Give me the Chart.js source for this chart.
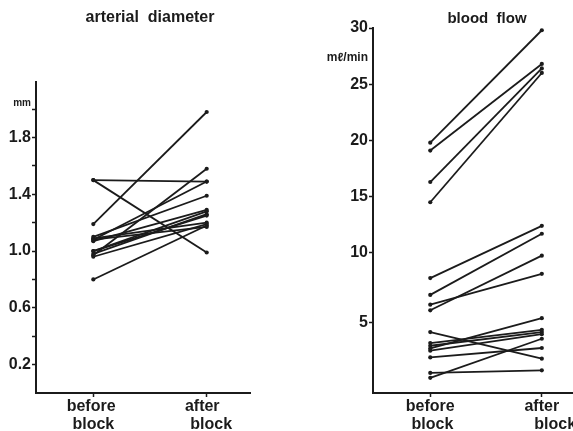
<!DOCTYPE html>
<html><head><meta charset="utf-8">
<script src="https://cdn.jsdelivr.net/npm/chart.js@4/dist/chart.umd.min.js"></script>
<style>
html,body{margin:0;padding:0;background:#fff;overflow:hidden;width:573px;height:431px;position:relative;}
#cl{position:absolute;left:0;top:0;}
#cr{position:absolute;left:290px;top:0;}
</style></head><body>
<canvas id="cl" width="300" height="431"></canvas>
<canvas id="cr" width="394" height="431"></canvas>
<script>
// ---------- data ----------
const categories = ['before block', 'after block'];   // x = 0, 1
const xLabelsLeft  = [['before ', 'block'], ['after  ', '  block']];
const xLabelsRight = [['before', ' block'], ['after', '      block']];

const diameterBefore = [1.50, 1.50, 1.19, 0.80, 0.97, 1.08, 1.10, 1.07, 1.00, 0.98, 1.09, 0.96, 1.08, 1.00];
const diameterAfter  = [1.49, 0.99, 1.98, 1.18, 1.58, 1.49, 1.39, 1.29, 1.28, 1.26, 1.20, 1.19, 1.17, 1.25];
const diameterTickValues = [0.2, 0.4, 0.6, 0.8, 1.0, 1.2, 1.4, 1.6, 1.8, 2.0];
const diameterTickLabels = ['0.2', '', '0.6', '', '1.0', '', '1.4', '', '1.8', ['mm', '']];

const flowBefore = [19.8, 19.1, 16.3, 14.5, 8.2, 7.0, 6.3, 5.9, 4.35, 3.56, 3.37, 3.18, 3.02, 2.54, 1.43, 1.08];
const flowAfter  = [29.8, 26.8, 26.4, 26.0, 12.4, 11.7, 8.5, 9.8, 2.45, 4.51, 4.35, 5.34, 4.20, 3.21, 1.62, 3.87];
const flowTickValues = [5, 10, 15, 20, 25, 27.4, 30];
const flowTickLabels = ['5', '10', '15', '20', '25', 'mℓ/min', '30'];
const flowUnitValue = 27.4;

// ---------- broken (two-segment) linear scale ----------
const FLOW_BREAK = 10, FLOW_BREAK_FRACTION = 0.384;
class BrokenLinearScale extends Chart.LinearScale {
  _toDecimal(v) {
    const min = this.min, max = this.max;
    return v <= FLOW_BREAK
      ? (v - min) / (FLOW_BREAK - min) * FLOW_BREAK_FRACTION
      : FLOW_BREAK_FRACTION + (v - FLOW_BREAK) / (max - FLOW_BREAK) * (1 - FLOW_BREAK_FRACTION);
  }
  getPixelForValue(v) {
    if (v === null || v === undefined || isNaN(v)) return NaN;
    return this.getPixelForDecimal(this._toDecimal(v));
  }
  getValueForPixel(p) {
    const d = this.getDecimalForPixel(p);
    const min = this.min, max = this.max;
    return d <= FLOW_BREAK_FRACTION
      ? min + d / FLOW_BREAK_FRACTION * (FLOW_BREAK - min)
      : FLOW_BREAK + (d - FLOW_BREAK_FRACTION) / (1 - FLOW_BREAK_FRACTION) * (max - FLOW_BREAK);
  }
}
BrokenLinearScale.id = 'brokenLinear';
BrokenLinearScale.defaults = Chart.LinearScale.defaults;
Chart.register(BrokenLinearScale);

// ---------- styles ----------
const INK = '#1b1b1b';
const FONT = 'Liberation Sans, Arial, sans-serif';

function pairDatasets(before, after) {
  return before.map((b, i) => ({
    data: [{x: 0, y: b}, {x: 1, y: after[i]}],
    showLine: true,
    borderColor: INK,
    backgroundColor: INK,
    borderWidth: 1.8,
    pointRadius: 2.1,
    pointBorderWidth: 0,
    pointBackgroundColor: INK,
    clip: false
  }));
}

function xScale(min, max, labels) {
  return {
    type: 'linear', min: min, max: max,
    afterBuildTicks: s => { s.ticks = categories.map((c, i) => ({value: i})); },
    afterFit: s => { s.height = 38; },
    ticks: {
      autoSkip: false, color: INK, padding: 0,
      font: {family: FONT, size: 16, weight: 'bold', lineHeight: 1.15},
      callback: (v, i) => labels[i]
    },
    grid: {drawOnChartArea: false, drawTicks: true, tickLength: 4, tickColor: INK, tickWidth: 1.5},
    border: {display: true, color: INK, width: 2}
  };
}

const commonPlugins = (title, size, padTop, padBottom) => ({
  legend: {display: false},
  tooltip: {enabled: false},
  title: {display: true, text: title, color: INK,
    font: {family: FONT, size: size, weight: 'bold', lineHeight: 1.2},
    padding: {top: padTop, bottom: padBottom}}
});

// ---------- left: arterial diameter ----------
new Chart(document.getElementById('cl'), {
  type: 'scatter',
  data: {datasets: pairDatasets(diameterBefore, diameterAfter)},
  options: {
    responsive: false, animation: false, devicePixelRatio: 1,
    layout: {padding: 0},
    plugins: commonPlugins('arterial  diameter', 16, 8, 55),
    scales: {
      x: xScale(-0.5054, 1.3819, xLabelsLeft),
      y: {
        type: 'linear', min: 0, max: 2.19, position: 'left',
        afterBuildTicks: s => { s.ticks = diameterTickValues.map(v => ({value: v})); },
        afterFit: s => { s.width = 36; },
        ticks: {
          autoSkip: false, color: INK, padding: 1,
          font: ctx => (ctx.tick && ctx.tick.value === 2.0)
            ? {family: FONT, size: 10, weight: 'bold', lineHeight: 1.2}
            : {family: FONT, size: 16, weight: 'bold', lineHeight: 1.2},
          callback: (v, i) => diameterTickLabels[i]
        },
        grid: {drawOnChartArea: false, drawTicks: true, tickLength: 4, tickColor: INK, tickWidth: 1.5},
        border: {display: true, color: INK, width: 2}
      },
      yHidden: {
        type: 'linear', position: 'right', display: true,
        afterFit: s => { s.width = 50; },
        ticks: {display: false},
        grid: {display: false},
        border: {display: false}
      }
    }
  }
});

// ---------- right: blood flow ----------
new Chart(document.getElementById('cr'), {
  type: 'scatter',
  data: {datasets: pairDatasets(flowBefore, flowAfter)},
  options: {
    responsive: false, animation: false, devicePixelRatio: 1,
    layout: {padding: 0},
    plugins: commonPlugins('blood  flow', 15, 10, 0),
    scales: {
      x: xScale(-0.5133, 2.2389, xLabelsRight),
      y: {
        type: 'brokenLinear', min: 0, max: 30, position: 'left',
        afterBuildTicks: s => { s.ticks = flowTickValues.map(v => ({value: v})); },
        afterFit: s => { s.width = 83; },
        ticks: {
          autoSkip: false, color: INK, padding: 1,
          font: ctx => (ctx.tick && ctx.tick.value === flowUnitValue)
            ? {family: FONT, size: 12, weight: 'bold', lineHeight: 1.2}
            : {family: FONT, size: 16, weight: 'bold', lineHeight: 1.2},
          callback: (v, i) => flowTickLabels[i]
        },
        grid: {drawOnChartArea: false, drawTicks: true, tickLength: 4, tickWidth: 1.5,
          tickColor: ctx => (ctx.tick && ctx.tick.value === flowUnitValue) ? 'rgba(0,0,0,0)' : INK},
        border: {display: true, color: INK, width: 2}
      }
    }
  }
});
</script>
</body></html>
